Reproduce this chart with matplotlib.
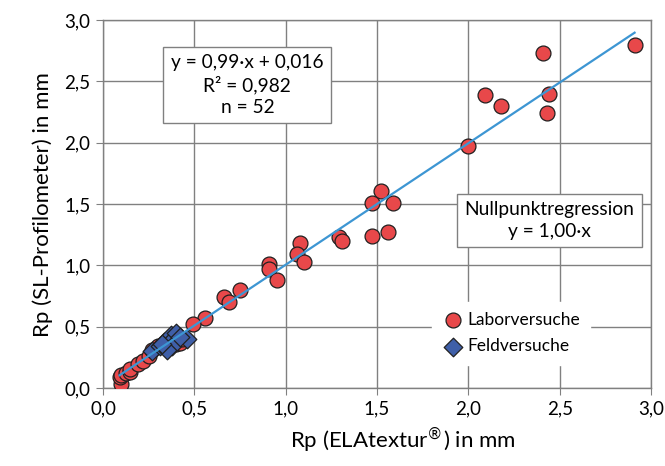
import matplotlib
matplotlib.use("Agg")
import matplotlib.pyplot as plt
from matplotlib.ticker import FuncFormatter, MultipleLocator

plt.rcParams['font.family'] = ['Lato', 'DejaVu Sans']

# Laborversuche (red circles)
labor_x = [2.91, 2.41, 2.09, 2.18, 2.44, 2.43, 2.00,
           1.52, 1.47, 1.59, 1.56, 1.47, 1.29, 1.31,
           1.08, 1.06, 1.10, 0.91, 0.91, 0.95,
           0.75, 0.66, 0.69, 0.56, 0.49,
           0.10, 0.09, 0.10, 0.125, 0.15, 0.15, 0.19, 0.22, 0.25, 0.27,
           0.30, 0.33, 0.37, 0.40, 0.42, 0.43]
labor_y = [2.80, 2.73, 2.39, 2.30, 2.40, 2.24, 1.97,
           1.61, 1.51, 1.51, 1.27, 1.24, 1.23, 1.20,
           1.18, 1.09, 1.03, 1.01, 0.97, 0.88,
           0.80, 0.74, 0.70, 0.57, 0.52,
           0.03, 0.09, 0.11, 0.12, 0.13, 0.16, 0.20, 0.22, 0.26, 0.31,
           0.34, 0.35, 0.36, 0.36, 0.37, 0.40]

# Feldversuche (blue diamonds)
feld_x = [0.27, 0.31, 0.335, 0.37, 0.38, 0.40, 0.46, 0.38, 0.35, 0.42, 0.32]
feld_y = [0.30, 0.34, 0.38, 0.43, 0.39, 0.45, 0.40, 0.34, 0.31, 0.42, 0.36]

slope = 0.99
intercept = 0.016

fig = plt.figure(figsize=(6.65, 4.66), dpi=100)
ax = fig.add_axes([0.155, 0.167, 0.824, 0.790])

gray = '#808080'
ax.grid(True, color=gray, linewidth=1.0, zorder=0)
ax.set_axisbelow(True)
for s in ax.spines.values():
    s.set_color(gray)
    s.set_linewidth(1.0)

ax.scatter(labor_x, labor_y, s=115, c='#E8484A', edgecolors='#202020',
           linewidths=0.9, marker='o', zorder=3, label='Laborversuche')
ax.scatter(feld_x, feld_y, s=90, c='#3F5FA8', edgecolors='#202020',
           linewidths=0.9, marker='D', zorder=4, label='Feldversuche')

all_x = labor_x + feld_x
x0, x1 = min(all_x), max(all_x)
ax.plot([x0, x1], [slope * x0 + intercept, slope * x1 + intercept],
        color='#3D96D3', linewidth=1.6, zorder=5)

ax.set_xlim(0, 3.0)
ax.set_ylim(0, 3.0)
ax.xaxis.set_major_locator(MultipleLocator(0.5))
ax.yaxis.set_major_locator(MultipleLocator(0.5))
fmt = FuncFormatter(lambda v, p: f"{v:.1f}".replace('.', ','))
ax.xaxis.set_major_formatter(fmt)
ax.yaxis.set_major_formatter(fmt)
ax.tick_params(axis='both', length=5, color=gray, labelsize=13.5, pad=4)

ax.set_xlabel(r'Rp (ELAtextur$^{\circledR}$) in mm', fontsize=16, labelpad=6)
ax.xaxis.set_label_coords(0.547, -0.1)
ax.set_ylabel('Rp (SL-Profilometer) in mm', fontsize=16, labelpad=8)

box = dict(boxstyle='square,pad=0.4', facecolor='white', edgecolor=gray, linewidth=1.0)
ax.text(0.79, 2.47, 'y = 0,99·x + 0,016\nR² = 0,982\nn = 52', ha='center', va='center',
        fontsize=13.8, linespacing=1.3, bbox=box, zorder=6)
ax.text(2.445, 1.366, 'Nullpunktregression\ny = 1,00·x', ha='center', va='center',
        fontsize=13.8, linespacing=1.3, bbox=box, zorder=6)

leg = ax.legend(loc='lower left', bbox_to_anchor=(0.585, 0.04), fontsize=12.5,
                frameon=True, fancybox=False, framealpha=1, edgecolor='white',
                handletextpad=0.2, borderpad=0.6, labelspacing=0.6, handlelength=1.2)
leg.set_zorder(7)

fig.savefig('out.png', dpi=100)
